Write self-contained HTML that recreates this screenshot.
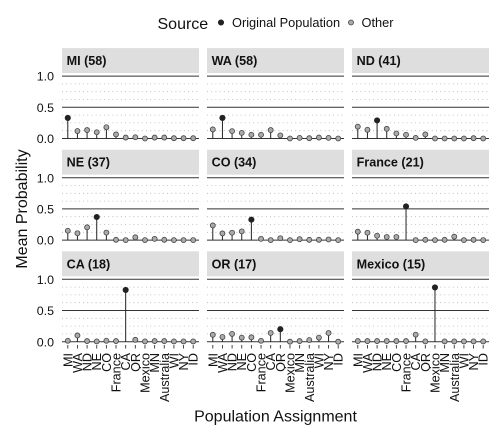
<!DOCTYPE html>
<html>
<head>
<meta charset="utf-8">
<style>
html,body{margin:0;padding:0;background:#fff;width:504px;height:432px;overflow:hidden}
svg{display:block}
text{font-family:"Liberation Sans",sans-serif;fill:#111}
</style>
</head>
<body>
<svg id="chart" width="504" height="432" viewBox="0 0 504 432" xmlns="http://www.w3.org/2000/svg">
  <rect x="0" y="0" width="504" height="432" fill="#fff"/>
  <text x="157.5" y="29" font-size="16">Source</text>
  <circle cx="221" cy="22.5" r="2.7" fill="#222" stroke="#222" stroke-width="0.7"/>
  <text x="232" y="27" font-size="12.8">Original Population</text>
  <circle cx="351" cy="22.5" r="2.5" fill="#aaa" stroke="#444" stroke-width="0.8"/>
  <text x="361.5" y="27" font-size="12.8">Other</text>
  <text transform="translate(27,209) rotate(-90)" text-anchor="middle" font-size="16">Mean Probability</text>
  <text x="275.5" y="421.5" text-anchor="middle" font-size="16">Population Assignment</text>
</svg>
<script>
var categories = ["MI","WA","ND","NE","CO","France","CA","OR","Mexico","MN","Australia","WI","NY","ID"];
var panelTitles = ["MI (58)","WA (58)","ND (41)","NE (37)","CO (34)","France (21)","CA (18)","OR (17)","Mexico (15)"];
var originalPopulation = ["MI","WA","ND","NE","CO","France","CA","OR","Mexico"];
var valuesMI = [0.33,0.12,0.135,0.10,0.18,0.065,0.015,0.02,0,0.015,0.015,0.005,0.005,0.005];
var valuesWA = [0.145,0.33,0.118,0.09,0.06,0.06,0.135,0.05,0,0.01,0.005,0.015,0.01,0];
var valuesND = [0.19,0.14,0.29,0.155,0.08,0.06,0.01,0.065,0,0,0,0,0.005,0];
var valuesNE = [0.15,0.11,0.205,0.37,0.12,0.005,0,0.045,0,0.02,0.005,0,0,0];
var valuesCO = [0.235,0.107,0.118,0.14,0.328,0.02,0,0.03,0,0.015,0.005,0.005,0.01,0];
var valuesFrance = [0.135,0.118,0.07,0.05,0.05,0.54,0,0.005,0,0.005,0.055,0,0.005,0];
var valuesCA = [0.015,0.10,0.01,0.005,0.015,0.01,0.83,0.03,0.005,0.01,0.01,0.005,0.005,0.005];
var valuesOR = [0.11,0.075,0.125,0.065,0.07,0.015,0.14,0.2,0,0.01,0.027,0.065,0.14,0];
var valuesMexico = [0.01,0.01,0.01,0.01,0.01,0.01,0.113,0.005,0.87,0.005,0.005,0.005,0.005,0.005];
var panelValues = [valuesMI,valuesWA,valuesND,valuesNE,valuesCO,valuesFrance,valuesCA,valuesOR,valuesMexico];
var yTickValues = [0,0.5,1];
var yTickLabels = ["0.0","0.5","1.0"];
var yMinorValues = [0.125,0.25,0.375,0.625,0.75,0.875];

var NS = "http://www.w3.org/2000/svg";
var svg = document.getElementById("chart");
var panelLeft = 62, panelGapX = 145, panelWidth = 137;
var zeroTop = 138.5, zeroGapY = 101.6, yPerUnit = 62.4;

function make(tag, parent) {
  var el = document.createElementNS(NS, tag);
  parent.appendChild(el);
  return el;
}
function xScale(col, index) {
  var step = panelWidth / (categories.length - 1 + 1.2);
  return panelLeft + col * panelGapX + step * (0.6 + index);
}
function yScale(row, value) {
  return zeroTop + row * zeroGapY - value * yPerUnit;
}
function hLine(parent, col, y, color, width, dash) {
  var l = make("line", parent);
  l.setAttribute("x1", panelLeft + col * panelGapX);
  l.setAttribute("x2", panelLeft + col * panelGapX + panelWidth);
  l.setAttribute("y1", y);
  l.setAttribute("y2", y);
  l.setAttribute("stroke", color);
  l.setAttribute("stroke-width", width);
  if (dash) l.setAttribute("stroke-dasharray", dash);
  return l;
}

panelTitles.forEach(function (title, p) {
  var col = p % 3, row = Math.floor(p / 3);
  var g = make("g", svg);
  
  

  var stripTop = yScale(row, 1) - 28;
  var strip = make("rect", g);
  
  
  strip.setAttribute("x", panelLeft + col * panelGapX);
  strip.setAttribute("y", stripTop);
  strip.setAttribute("width", panelWidth);
  strip.setAttribute("height", 25);
  strip.setAttribute("fill", "#dedede");

  var label = make("text", g);
  
  
  label.setAttribute("x", panelLeft + col * panelGapX + 4.6);
  label.setAttribute("y", stripTop + 17);
  label.setAttribute("font-size", "12.6");
  label.setAttribute("font-weight", "bold");
  label.textContent = title;

  yMinorValues.forEach(function (v) {
    var minor = hLine(g, col, yScale(row, v), "#b4b4b4", 0.8, "1 3.2");
    
    
  });
  yTickValues.forEach(function (v, i) {
    var major = hLine(g, col, yScale(row, v), "#333", 1);
    
    
    if (col === 0) {
      var t = make("text", g);
      
      
      t.setAttribute("x", 54);
      t.setAttribute("y", yScale(row, v) + 4.6);
      t.setAttribute("text-anchor", "end");
      t.setAttribute("font-size", "12.4");
      t.textContent = yTickLabels[i];
    }
  });

  var vals = panelValues[p];
  categories.forEach(function (cat, i) {
    var x = xScale(col, i), y0 = yScale(row, 0), y = yScale(row, vals[i]);
    var stem = make("line", g);
    
    
    stem.setAttribute("x1", x);
    stem.setAttribute("x2", x);
    stem.setAttribute("y1", y0);
    stem.setAttribute("y2", y);
    stem.setAttribute("stroke", "#222");
    stem.setAttribute("stroke-width", "1");
  });
  categories.forEach(function (cat, i) {
    var x = xScale(col, i), y = yScale(row, vals[i]);
    var isOriginal = cat === originalPopulation[p];
    var dot = make("circle", g);
    
    
    dot.setAttribute("cx", x);
    dot.setAttribute("cy", y);
    dot.setAttribute("r", isOriginal ? 2.7 : 2.5);
    dot.setAttribute("fill", isOriginal ? "#222" : "#aaa");
    dot.setAttribute("stroke", isOriginal ? "#222" : "#444");
    dot.setAttribute("stroke-width", isOriginal ? 0.7 : 0.8);
    if (row === 2) {
      var tick = make("line", g);
      
      
      tick.setAttribute("x1", x);
      tick.setAttribute("x2", x);
      tick.setAttribute("y1", 345);
      tick.setAttribute("y2", 348.5);
      tick.setAttribute("stroke", "#333");
      tick.setAttribute("stroke-width", "0.9");
      var t = make("text", g);
      
      
      t.setAttribute("transform", "translate(" + (x + 4.5) + ",353) rotate(-90)");
      t.setAttribute("text-anchor", "end");
      t.setAttribute("font-size", "12.6");
      t.textContent = cat;
    }
  });
});
</script>
</body>
</html>
